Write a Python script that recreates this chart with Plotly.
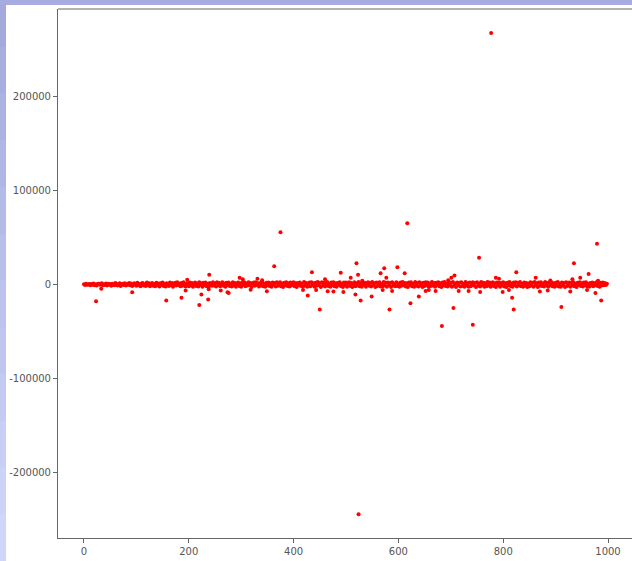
import plotly.graph_objects as go

# ---- data ----
band_step = 2
band_values = [
    200, -500, 800, -300, 100, 600, -900, 400, -200, 1100, -700, 300, -1200, 500, 900, -400, 0, 1300, -800, 200, -600, 1000, -1100, 700, -300,
    400, -1300, 900, 100, -700, 1500, -200, -1000, 600, 1200, -1500, 300, 800, -600, 1400, -1200, 500, -300, 1600, -900, 1100, -1700, 200, 1300, -500,
    -1400, 1800, -800, 600, -1900, 1000, 1500, -1100, 300, -1600, 2000, -400, 1200, -2000, 700, 1700, -1300, 400, -1800, 1900, -700, 1100, -2100, 1400, -200,
    2100, -1500, 800, -2200, 1300, 500, -1700, 2200, -900, 1600, -2300, 300, 1900, -1200, 2300, -600, 1000, -2000, 1700, -1400, 2400, -300, -2200, 1200, 800,
    -1900, 2200, -1000, 1500, -2400, 600, 2000, -1600, 1100, -2100, 2500, -500, 1400, -2300, 1800, -800, 2100, -1800, 900, -2500, 1600, 300, -1400, 2300, -1100,
    1300, -2200, 2400, -700, 1700, -1900, 400, 2500, -1300, 1000, -2400, 1900, -600, 2200, -1700, 800, -2100, 2300, -1000, 1500, -2500, 600, 2000, -1500, 1200,
    -2300, 1800, -400, 2400, -2000, 1100, -1200, 2500, -800, 1600, -2600, 900, 2100, -1400, 2300, -500, 1400, -2200, 1700, -1100, 2600, -1800, 700, -2400, 1900,
    -900, 2200, -1600, 1200, -2500, 2000, -300, 1500, -2100, 2400, -1300, 600, 2300, -1900, 1000, -2600, 1800, -700, 2500, -1500, 1300, -2200, 2100, -1000, 800,
    2400, -2000, 1400, -2700, 1700, -600, 2200, -1600, 900, -2300, 2600, -1200, 1600, -2500, 500, 2000, -1800, 2500, -900, 1200, -2400, 1900, -1400, 2700, -700,
    1500, -2600, 2300, -1100, 1800, -2100, 600, 2600, -1700, 1100, -2500, 2100, -800, 2400, -1900, 1300, -2300, 1700, -500, 2500, -1500, 900, -2700, 2200, -1200,
    2000, -2400, 1000, 2500, -1600, 1600, -2600, 700, 2300, -2000, 1400, -1000, 2700, -1800, 1200, -2300, 2100, -600, 1900, -2500, 800, 2400, -1400, 1700, -2200,
    2600, -900, 1300, -2700, 2000, -1500, 1000, 2400, -2100, 500, -1800, 2700, -1200, 1800, -2400, 2200, -700, 1500, -2600, 2300, -1100, 700, -2000, 2500, -1700,
    1100, -2500, 2200, -1300, 2600, -800, 1700, -2200, 1400, -2700, 2000, -500, 2300, -1900, 900, -2400, 2600, -1400, 1600, -2100, 2400, -1000, 1200, -2600, 1900,
    -1500, 2500, -700, 2100, -2300, 1000, -1700, 2700, -1200, 1500, -2500, 1800, -400, 2300, -2000, 1300, -2600, 2000, -1100, 2600, -1600, 800, -2200, 2400, -900,
    1700, -2400, 2600, -1300, 1100, -2700, 2200, -600, 1900, -2100, 2500, -1500, 900, -2300, 2700, -1000, 1400, -2500, 2100, -1800, 600, 2400, -1200, 1600, -2600,
    2300, -1400, 1000, -2200, 2600, -800, 1800, -2500, 1300, -1900, 2700, -1100, 2100, -2400, 700, 2500, -1700, 1200, -2600, 2200, -500, 1900, -2300, 1500, -1000,
    2400, -2100, 1400, -2700, 1800, -900, 2600, -1500, 1100, -2400, 2000, -600, 2300, -2200, 1600, -1200, 2700, -1900, 800, -2500, 2200, -1300, 1700, -2600, 1000,
    -1800, 2500, -1000, 1900, -2300, 2600, -700, 1300, -2600, 2100, -1400, 2400, -1700, 900, -2200, 2700, -1100, 1600, -2500, 2000, -800, 2300, -2000, 1200, -2400,
    1900, -1300, 2600, -2100, 1000, -2500, 2200, -900, 1500, -2700, 2400, -1600, 700, 2100, -2300, 1700, -1200, 2500, -2000, 1100, -2600, 1800, -500, 2300, -1500,
    1200, -2200, 2000, -800, 2400, -1800, 900, -2400, 1600, -1100, 2200, -2000, 1400, -700, 2500, -1600, 1000, -2300, 1800, -1200, 2100, -900, 1500, -600, 800,
]
band_index = list(range(0, band_step * len(band_values), band_step))

outlier_index = [
    23, 33, 92, 157, 186, 194, 197, 220, 224, 237, 238, 239, 261, 274, 276, 297, 303, 318, 331, 340,
    349, 363, 375, 418, 427, 435, 443, 450, 460, 465, 476, 490, 495, 509, 518, 520, 523, 524, 528, 531,
    549, 566, 570, 573, 577, 583, 588, 598, 612, 617, 623, 639, 652, 658, 671, 683, 695, 701, 705, 707,
    715, 734, 742, 754, 756, 777, 786, 792, 799, 811, 817, 820, 825, 862, 870, 885, 890, 911, 928, 932,
    935, 947, 960, 963, 976, 979, 981, 987,
]
outlier_value = [
    -17800, -4600, -8200, -17000, -14200, -6400, 5000, -22000, -10600, -16000, -5000, 10300, -6400, -8200, -9000, 7100, 5700, -5700, 6000, 4500,
    -7100, 19500, 55700, -6000, -11700, 13100, -6000, -26600, 5700, -7200, -7400, 12400, -8000, 7100, -10600, 22700, 10300, -245000, -17000, 4000,
    -12800, 12000, -6000, 17300, 7100, -26600, -7000, 18400, 12000, 65200, -19900, -12800, -7000, -6000, -7000, -44300, 4500, 7100, -25200, 9600,
    -7000, -7000, -42900, 28400, -8000, 268000, 7100, 6000, -8000, -6000, -14200, -26600, 13100, 7100, -7600, -6400, 4300, -24100, -7600, 5700,
    22700, 7100, -6000, 11300, -9200, 43300, 4000, -17000,
]

x_ticks = [0, 200, 400, 600, 800, 1000]
y_ticks = [-200000, -100000, 0, 100000, 200000]

# ---- figure ----
W, H = 632, 561
L, R, T, B = 58, 0, 9, 23
pw, ph = W - L - R, H - T - B

def px_x(p):
    return (p - L) / pw

def px_y(p):
    return (H - B - p) / ph

fig = go.Figure()
fig.add_trace(go.Scatter(
    x=band_index + outlier_index,
    y=band_values + outlier_value,
    mode="markers",
    marker=dict(color="#ff0000", size=4, line=dict(width=0)),
    hoverinfo="skip",
))

shapes = []
strip_colors = ["#a3abdd", "#a7afe0", "#abb3e3", "#afb7e6", "#b3bbe9", "#b7bfec",
                "#bbc3ee", "#bfc7f0", "#c3cbf2", "#c7cff4", "#cbd3f6", "#cfd7f8"]
n = len(strip_colors)
for k, c in enumerate(strip_colors):
    y0 = k * H / n
    y1 = (k + 1) * H / n + 1
    shapes.append(dict(type="rect", xref="paper", yref="paper",
                       x0=px_x(0), x1=px_x(6), y0=px_y(y1), y1=px_y(y0),
                       fillcolor=c, line=dict(width=0), layer="below"))
shapes.append(dict(type="rect", xref="paper", yref="paper",
                   x0=px_x(0), x1=px_x(W), y0=px_y(5), y1=px_y(0),
                   fillcolor="#a6acdf", line=dict(width=0), layer="above"))
shapes.append(dict(type="line", xref="paper", yref="paper",
                   x0=0, x1=1, y0=1, y1=1, line=dict(color="#666666", width=1)))

fig.update_layout(
    width=W, height=H,
    margin=dict(l=L, r=R, t=T, b=B, pad=0),
    paper_bgcolor="white", plot_bgcolor="white",
    showlegend=False,
    shapes=shapes,
    font=dict(family="DejaVu Sans", size=10, color="#555555"),
)
fig.update_xaxes(
    range=[-49.6, 1045.8], tickvals=x_ticks, ticktext=[str(v) for v in x_ticks],
    showgrid=False, zeroline=False, showline=True, linecolor="#666666", linewidth=1,
    ticks="outside", ticklen=4, tickcolor="#666666",
)
fig.update_yaxes(
    range=[-270300, 293700], tickvals=y_ticks, ticktext=[str(v) for v in y_ticks],
    showgrid=False, zeroline=False, showline=True, linecolor="#666666", linewidth=1,
    ticks="outside", ticklen=4, tickcolor="#666666",
)

fig.write_html("out.html", config={"displayModeBar": False},
               post_script="document.body.style.margin='0';document.body.style.overflow='hidden';")
